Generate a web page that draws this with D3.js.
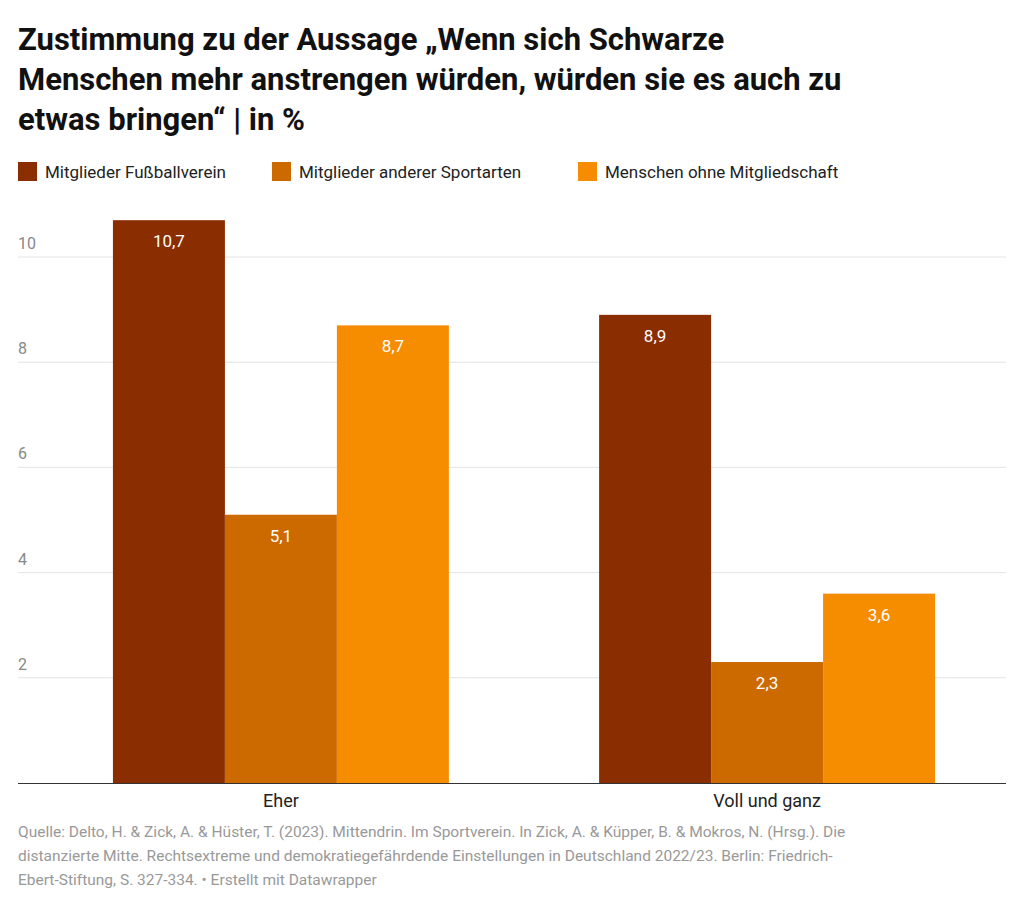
<!DOCTYPE html>
<html><head><meta charset="utf-8">
<script src="https://cdn.jsdelivr.net/npm/d3@7"></script>
<style>body{margin:0;background:#fff;font-family:Roboto,sans-serif}</style>
</head><body>
<script>
const groups = ["Eher", "Voll und ganz"];
const series = ["Mitglieder Fußballverein", "Mitglieder anderer Sportarten", "Menschen ohne Mitgliedschaft"];
const values = [[10.7, 5.1, 8.7], [8.9, 2.3, 3.6]];
const colors = ["#8a2d00", "#cc6a00", "#f68c00"];
const ticks = [2, 4, 6, 8, 10];
const titleLines = ["Zustimmung zu der Aussage „Wenn sich Schwarze", "Menschen mehr anstrengen würden, würden sie es auch zu", "etwas bringen“ | in %"];
const source = ["Quelle: Delto, H. & Zick, A. & Hüster, T. (2023). Mittendrin. Im Sportverein. In Zick, A. & Küpper, B. & Mokros, N. (Hrsg.). Die", "distanzierte Mitte. Rechtsextreme und demokratiegefährdende Einstellungen in Deutschland 2022/23. Berlin: Friedrich-", "Ebert-Stiftung, S. 327-334.  • Erstellt mit Datawrapper"];

const svg = d3.select("body").append("svg").attr("width", 1024).attr("height", 912);

svg.selectAll("text.title").data(titleLines).join("text")
  .attr("x", 18).attr("y", (d, i) => 50 + i * 40)
  .attr("font-size", 31).attr("font-weight", 700).attr("fill", "#111").text(d => d);

// legend
const legX = [18, 272, 578];
const leg = svg.selectAll("g.leg").data(series).join("g")
  .attr("transform", (d, i) => `translate(${legX[i]},162)`);
leg.append("rect").attr("width", 19).attr("height", 19).attr("fill", (d, i) => colors[i]);
leg.append("text").attr("x", 27).attr("y", 16).attr("font-size", 17).attr("fill", "#222").text(d => d);

const y = d3.scaleLinear().domain([0, 10]).range([783, 257]);
const x0 = d3.scaleBand().domain(groups).range([40, 1008]).paddingInner(0.309).paddingOuter(0.15);
const x1 = d3.scaleBand().domain(d3.range(3)).range([0, x0.bandwidth()]);

svg.selectAll("line.grid").data(ticks).join("line")
  .attr("x1", 18).attr("x2", 1006).attr("y1", d => y(d)).attr("y2", d => y(d))
  .attr("stroke", "#e3e3e3");
svg.selectAll("text.tick").data(ticks).join("text")
  .attr("x", 18).attr("y", d => y(d) - 8).attr("font-size", 16).attr("fill", "#888").text(d => d);

const g = svg.selectAll("g.grp").data(groups).join("g")
  .attr("transform", d => `translate(${x0(d)},0)`);
g.selectAll("rect").data((d, gi) => values[gi]).join("rect")
  .attr("x", (d, i) => x1(i)).attr("width", x1.bandwidth())
  .attr("y", d => y(d)).attr("height", d => y(0) - y(d))
  .attr("fill", (d, i) => colors[i]);
g.selectAll("text").data((d, gi) => values[gi]).join("text")
  .attr("x", (d, i) => x1(i) + x1.bandwidth() / 2).attr("y", d => y(d) + 27)
  .attr("text-anchor", "middle").attr("font-size", 17).attr("fill", "#fff")
  .text(d => d.toFixed(1).replace(".", ","));

svg.append("line").attr("x1", 18).attr("x2", 1006).attr("y1", 783.5).attr("y2", 783.5).attr("stroke", "#333");
svg.selectAll("text.cat").data(groups).join("text")
  .attr("x", d => x0(d) + x0.bandwidth() / 2).attr("y", 807)
  .attr("text-anchor", "middle").attr("font-size", 18).attr("fill", "#222").text(d => d);

svg.selectAll("text.src").data(source).join("text")
  .attr("x", 18).attr("y", (d, i) => 837 + i * 24)
  .attr("font-size", 15.5).attr("fill", "#999").text(d => d);
</script>
</body></html>
